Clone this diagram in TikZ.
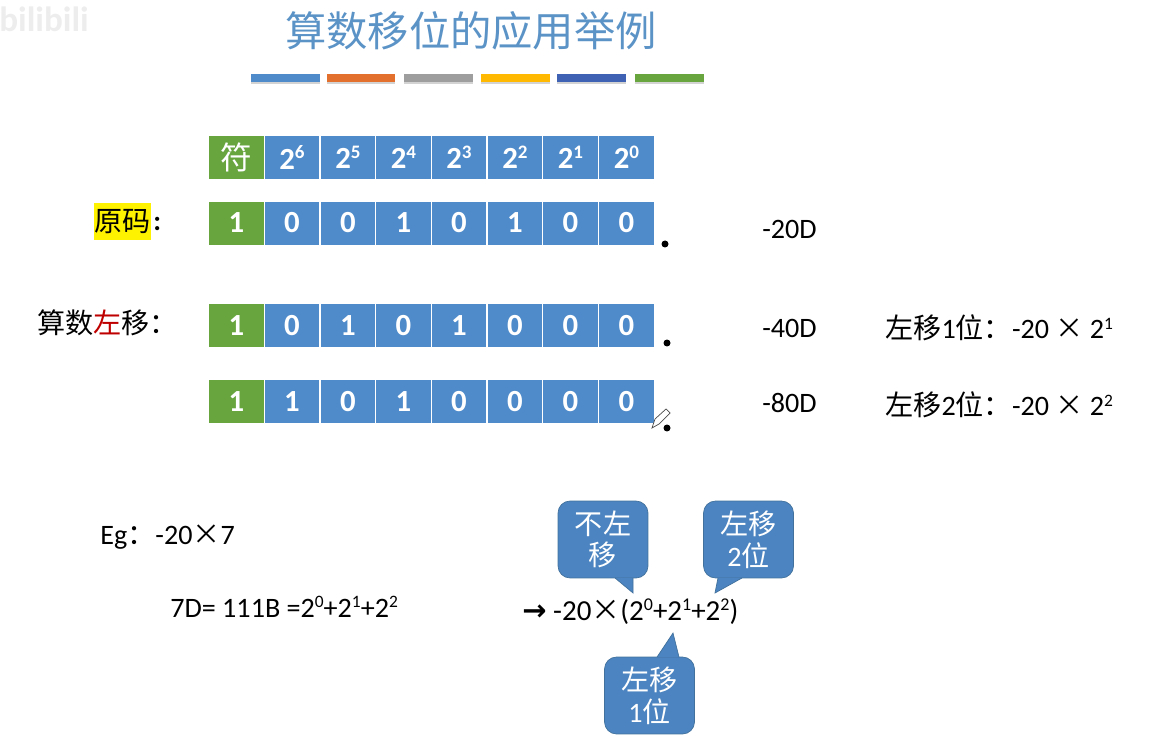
\documentclass[tikz,border=0pt]{standalone}
\usepackage{fontspec}
\setmainfont{Carlito}
\newfontfamily\cjk{Noto Sans CJK SC}
\newfontfamily\symb{DejaVu Sans}
\usetikzlibrary{shadows}
\newcommand{\zh}[1]{{\cjk #1}}
\newcommand{\up}[1]{\raisebox{0.34em}{\scalebox{0.62}{#1}}}
\definecolor{cellblue}{HTML}{4F8BCA}
\definecolor{cellgreen}{HTML}{68A53F}
\definecolor{titleblue}{HTML}{5B93C7}
\definecolor{calledge}{HTML}{41719C}
\definecolor{barorange}{HTML}{E3702D}
\definecolor{bargray}{HTML}{9E9E9E}
\definecolor{baryellow}{HTML}{FFB900}
\definecolor{bardark}{HTML}{3F62B5}
\tikzset{
  cellbase/.style={draw=white,line width=0.5pt,minimum width=1.114cm,minimum height=0.88cm,inner sep=0pt,text=white,font=\fontsize{17.5pt}{18pt}\selectfont\bfseries},
  bitcell/.style={cellbase,fill=cellblue},
  signcell/.style={cellbase,fill=cellgreen},
  barmark/.style={minimum width=1.38cm,minimum height=0.16cm,inner sep=0pt,drop shadow={shadow xshift=0pt,shadow yshift=-1.2pt,opacity=0.35}},
  label/.style={anchor=west,inner sep=0pt,font=\fontsize{16pt}{18pt}\selectfont},
  dotmark/.style={circle,fill=black,minimum size=0.14cm,inner sep=0pt},
  callbox/.style={draw=calledge,fill=cellblue!95!black,rounded corners=0.24cm,minimum width=1.8cm,minimum height=1.54cm,inner sep=0pt,align=center,text=white,font=\fontsize{16pt}{18pt}\selectfont},
  calltail/.style={draw=calledge,fill=cellblue!95!black}
}
\begin{document}
\begin{tikzpicture}[x=0.02cm,y=-0.02cm]
\useasboundingbox (0,0) rectangle (1150,753);
\node[text=black!7,font=\fontsize{20pt}{22pt}\selectfont\bfseries,inner sep=0pt] (mark) at (44,19) {bilibili};
\node[text=titleblue,font=\fontsize{23.5pt}{28pt}\selectfont\cjk,inner sep=0pt] (title) at (471,31) {算数移位的应用举例};
\node[barmark,fill=cellblue] (bar0) at (285.5,78) {};
\node[barmark,fill=barorange] (bar1) at (361,78) {};
\node[barmark,fill=bargray] (bar2) at (438.5,78) {};
\node[barmark,fill=baryellow] (bar3) at (515.5,78) {};
\node[barmark,fill=bardark] (bar4) at (591.5,78) {};
\node[barmark,fill=cellgreen] (bar5) at (669,78) {};
\node[signcell,font=\fontsize{18pt}{18pt}\selectfont\cjk] (h0) at (236.5,157.5) {符};
\node[bitcell] (h1) at (292,157.5) {2\up{6}};
\node[bitcell] (h2) at (348,157.5) {2\up{5}};
\node[bitcell] (h3) at (403.5,157.5) {2\up{4}};
\node[bitcell] (h4) at (459,157.5) {2\up{3}};
\node[bitcell] (h5) at (515,157.5) {2\up{2}};
\node[bitcell] (h6) at (570.5,157.5) {2\up{1}};
\node[bitcell] (h7) at (626.5,157.5) {2\up{0}};
\node[signcell] (a0) at (236.5,223) {1};
\node[bitcell] (a1) at (292,223) {0};
\node[bitcell] (a2) at (348,223) {0};
\node[bitcell] (a3) at (403.5,223) {1};
\node[bitcell] (a4) at (459,223) {0};
\node[bitcell] (a5) at (515,223) {1};
\node[bitcell] (a6) at (570.5,223) {0};
\node[bitcell] (a7) at (626.5,223) {0};
\node[signcell] (b0) at (236.5,325.5) {1};
\node[bitcell] (b1) at (292,325.5) {0};
\node[bitcell] (b2) at (348,325.5) {1};
\node[bitcell] (b3) at (403.5,325.5) {0};
\node[bitcell] (b4) at (459,325.5) {1};
\node[bitcell] (b5) at (515,325.5) {0};
\node[bitcell] (b6) at (570.5,325.5) {0};
\node[bitcell] (b7) at (626.5,325.5) {0};
\node[signcell] (c0) at (236.5,401.5) {1};
\node[bitcell] (c1) at (292,401.5) {1};
\node[bitcell] (c2) at (348,401.5) {0};
\node[bitcell] (c3) at (403.5,401.5) {1};
\node[bitcell] (c4) at (459,401.5) {0};
\node[bitcell] (c5) at (515,401.5) {0};
\node[bitcell] (c6) at (570.5,401.5) {0};
\node[bitcell] (c7) at (626.5,401.5) {0};
\node[dotmark] (d0) at (665,244) {};
\node[dotmark] (d1) at (667,343) {};
\node[dotmark] (d2) at (667,428) {};
\draw[black!70,fill=white,line width=0.4pt] (652,428) -- (655,419) -- (666,409) -- (670,413) -- (659,424) -- cycle;
\node[fill=yellow,inner sep=0pt,minimum width=1.14cm,minimum height=0.74cm,font=\fontsize{16pt}{18pt}\selectfont\cjk] (orig) at (122.5,221.5) {原码};
\node[label,font=\fontsize{16pt}{18pt}\selectfont\bfseries] (origc) at (153,224) {:};
\node[label,font=\fontsize{16pt}{18pt}\selectfont\cjk] (shift) at (37,323) {算数\textcolor{red!75!black}{左}移：};
\node[label] (va) at (762,229) {-20D};
\node[label] (vb) at (762,328) {-40D};
\node[label] (vc) at (762,403) {-80D};
\node[label] (ra) at (885,328) {\zh{左移}1\zh{位：}-20 \zh{×} 2\up{1}};
\node[label] (rb) at (885,405) {\zh{左移}2\zh{位：}-20 \zh{×} 2\up{2}};
\node[label] (eg) at (100,537) {Eg\zh{：}-20\zh{×}7};
\node[label] (seven) at (170,607) {7D= 111B =2\up{0}+2\up{1}+2\up{2}};
\node[label,font=\fontsize{16.5pt}{18pt}\selectfont] (calc) at (522,612) {{\symb\bfseries →} -20\zh{×}(2\up{0}+2\up{1}+2\up{2})};
\node[callbox] (k0) at (603,539.5) {\zh{不左}\\\zh{移}};
\coordinate (k0tip) at (633,593);
\draw[calltail] (615,578) -- (k0tip) -- (633,578);
\node[callbox] (k2) at (748.5,539.5) {\zh{左移}\\2\zh{位}};
\coordinate (k2tip) at (715,593);
\draw[calltail] (718,578) -- (k2tip) -- (742,578);
\node[callbox] (k1) at (649.5,695.5) {\zh{左移}\\1\zh{位}};
\coordinate (k1tip) at (673,633);
\draw[calltail] (657,657) -- (k1tip) -- (679,657);
\end{tikzpicture}
\end{document}
